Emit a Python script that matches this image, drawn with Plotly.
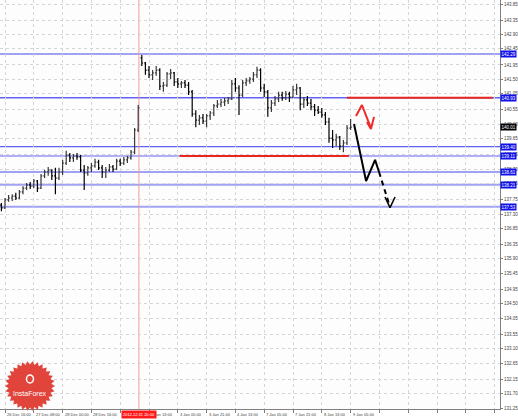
import math
import plotly.graph_objects as go

# ---------------- data ----------------
# two-hour bars, x = hour index on the chart's time scale
bar_hours = list(range(-2, 194, 2))

opens = [137.58,137.49,137.74,137.80,137.86,137.80,137.99,138.11,138.21,138.17,
         138.33,138.11,138.49,138.61,138.67,138.49,138.42,138.61,138.89,139.14,
         139.05,139.11,139.08,138.67,138.58,138.74,138.80,138.92,138.74,138.61,
         138.67,138.77,138.70,138.95,138.89,138.99,139.05,139.23,139.92,142.17,
         142.01,141.79,141.64,141.70,141.79,141.29,141.32,141.67,141.70,141.42,
         141.36,141.39,141.32,141.11,140.42,140.23,140.30,140.20,140.36,140.45,
         140.67,140.73,140.79,140.83,140.89,141.36,141.23,141.01,141.39,141.45,
         141.51,141.64,141.79,141.23,141.11,140.61,140.76,140.89,141.01,140.92,
         141.04,140.95,141.17,141.23,140.73,140.86,140.76,140.64,140.54,140.48,
         140.39,140.17,139.67,139.61,139.70,139.42,139.52,139.98]
highs = [137.64,137.80,137.89,137.92,137.96,138.05,138.17,138.27,138.30,138.39,
         138.36,138.55,138.67,138.77,138.70,138.74,138.74,138.99,139.27,139.20,
         139.17,139.20,139.14,138.83,138.80,138.89,139.02,138.99,138.83,138.77,
         138.86,138.83,139.02,139.02,139.08,139.11,139.30,139.98,140.70,142.26,
         142.04,141.92,141.79,141.92,141.85,141.42,141.73,141.82,141.73,141.54,
         141.45,141.48,141.42,141.17,140.54,140.39,140.42,140.42,140.51,140.73,
         140.86,140.89,140.92,140.95,141.48,141.54,141.32,141.48,141.54,141.57,
         141.73,141.89,141.85,141.36,141.17,140.86,140.98,141.11,141.11,141.14,
         141.11,141.29,141.36,141.26,140.95,140.98,140.89,140.73,140.67,140.61,
         140.48,140.30,139.92,139.80,139.73,139.61,140.08,140.26]
lows = [137.39,137.46,137.68,137.71,137.74,137.77,137.92,138.05,138.08,138.11,
        137.99,138.08,138.42,138.49,138.36,137.92,138.36,138.52,138.83,138.92,
        138.92,138.99,138.61,138.05,138.49,138.61,138.74,138.67,138.42,138.42,
        138.61,138.61,138.67,138.80,138.83,138.89,138.99,139.17,139.86,141.92,
        141.64,141.54,141.48,141.61,141.17,141.11,141.26,141.51,141.29,141.23,
        141.23,141.23,141.01,140.33,140.01,140.08,140.11,140.01,140.23,140.36,
        140.61,140.64,140.67,140.73,140.86,141.11,140.39,140.95,141.29,141.36,
        141.42,141.54,141.11,140.95,140.33,140.48,140.67,140.79,140.83,140.86,
        140.79,140.92,141.01,140.54,140.61,140.67,140.54,140.36,140.42,140.30,
        140.08,139.52,139.36,139.42,139.30,139.23,139.45,139.92]
closes = [137.49,137.74,137.80,137.86,137.80,137.99,138.11,138.21,138.17,138.33,
          138.11,138.49,138.61,138.67,138.49,138.42,138.61,138.89,139.14,139.05,
          139.11,139.08,138.67,138.58,138.74,138.80,138.92,138.74,138.61,138.67,
          138.77,138.70,138.95,138.89,138.99,139.05,139.23,139.92,140.61,142.01,
          141.79,141.64,141.70,141.79,141.29,141.32,141.67,141.70,141.42,141.36,
          141.39,141.32,141.11,140.42,140.23,140.30,140.20,140.36,140.45,140.67,
          140.73,140.79,140.83,140.89,141.36,141.23,141.01,141.39,141.45,141.51,
          141.64,141.79,141.23,141.11,140.61,140.76,140.89,141.01,140.92,141.04,
          140.95,141.17,141.23,140.73,140.86,140.76,140.64,140.54,140.48,140.39,
          140.17,139.67,139.61,139.70,139.42,139.52,139.98,140.01]

# horizontal levels (blue), and red segments
blue_levels = [142.29, 140.93, 139.40, 139.11, 138.61, 138.21, 137.53]
blue_styles = [("#a2a2f2", 2), ("#6262f2", 1.5), ("#6262f2", 1.2), ("#6262f2", 1.2),
               ("#a2a2f2", 2), ("#a2a2f2", 2), ("#a2a2f2", 2)]
red_level_upper = 140.93
red_upper_from, red_upper_to = 190, 271
red_level_lower = 139.11
red_lower_from, red_lower_to = 97, 191
current_price = 140.01

# forecast arrows (chart coordinates: hour index, price)
red_arrow_x = [195.0, 198.3, 203.3]
red_arrow_y = [140.36, 140.70, 139.98]
red_head_x = [201.1, 203.3, 205.0]
red_head_y = [140.17, 139.95, 140.33]
black_solid_x = [193.9, 200.6, 205.6, 207.8]
black_solid_y = [140.11, 138.33, 138.99, 138.61]
black_dash_x = [207.8, 213.9]
black_dash_y = [138.61, 137.52]
black_head_x = [211.1, 213.9, 216.7]
black_head_y = [137.83, 137.50, 137.83]

# crosshair
cross_x = 74.4
cross_label = "2012.12.31 20:00"

# axis ticks
x_tick_vals = [0, 16, 32, 48, 64, 80, 96, 112, 128, 144, 160, 176, 192, 208, 224, 240, 256, 272]
x_tick_labels = ["26 Dec 16:00", "27 Dec 08:00", "28 Dec 00:00", "28 Dec 16:00",
                 "31 Dec 08:00", "2 Jan 13:00", "3 Jan 05:00", "3 Jan 21:00",
                 "4 Jan 13:00", "7 Jan 05:00", "7 Jan 21:00", "8 Jan 13:00",
                 "9 Jan 05:00", "", "", "", "", ""]
y_tick_labels = ["131.25", "131.70", "132.15", "132.65", "133.10", "133.55", "134.05",
                 "134.50", "134.95", "135.45", "135.90", "136.35", "136.85", "137.30",
                 "137.75", "138.25", "138.70", "139.15", "139.65", "140.10", "140.55",
                 "141.05", "141.50", "141.95", "142.45", "142.90", "143.35", "143.85"]

# ---------------- figure ----------------
FONT = "Liberation Sans"
fig = go.Figure()

fig.add_trace(go.Ohlc(
    x=bar_hours, open=opens, high=highs, low=lows, close=closes,
    increasing=dict(line=dict(color="#3a3a3a", width=1.2)),
    decreasing=dict(line=dict(color="#000000", width=1.2)),
    tickwidth=0.35, showlegend=False, hoverinfo="skip"))

fig.add_trace(go.Scatter(x=red_arrow_x, y=red_arrow_y, mode="lines",
                         line=dict(color="#ee2a2a", width=2), showlegend=False, hoverinfo="skip"))
fig.add_trace(go.Scatter(x=red_head_x, y=red_head_y, mode="lines",
                         line=dict(color="#ee2a2a", width=2), showlegend=False, hoverinfo="skip"))
fig.add_trace(go.Scatter(x=black_solid_x, y=black_solid_y, mode="lines",
                         line=dict(color="#000000", width=2), showlegend=False, hoverinfo="skip"))
fig.add_trace(go.Scatter(x=black_dash_x, y=black_dash_y, mode="lines",
                         line=dict(color="#000000", width=2, dash="5px,4px"), showlegend=False, hoverinfo="skip"))
fig.add_trace(go.Scatter(x=black_head_x, y=black_head_y, mode="lines",
                         line=dict(color="#000000", width=1.5), showlegend=False, hoverinfo="skip"))

shapes = []
for lv, (col, w) in zip(blue_levels, blue_styles):
    shapes.append(dict(type="line", xref="paper", x0=0, x1=1, yref="y", y0=lv, y1=lv,
                       line=dict(color=col, width=w), layer="below"))
shapes.append(dict(type="line", xref="x", x0=red_upper_from, x1=red_upper_to, yref="y",
                   y0=red_level_upper, y1=red_level_upper, line=dict(color="#e8261e", width=2)))
shapes.append(dict(type="line", xref="x", x0=red_lower_from, x1=red_lower_to, yref="y",
                   y0=red_level_lower, y1=red_level_lower, line=dict(color="#e8261e", width=2)))
shapes.append(dict(type="line", xref="x", x0=cross_x, x1=cross_x, yref="paper", y0=0, y1=1,
                   line=dict(color="#f29a9a", width=1), layer="below"))

# InstaForex badge (decoration)
pts = []
n = 30
for i in range(2 * n):
    r = 25 if i % 2 == 0 else 21.5
    a = math.pi * i / n
    pts.append((r * math.cos(a), r * math.sin(a)))
star = "M " + " L ".join(f"{px:.2f},{py:.2f}" for px, py in pts) + " Z"
badge_x, badge_y = 30 / 500, (409 - 386) / 409
shapes.append(dict(type="path", xref="paper", yref="paper", xsizemode="pixel", ysizemode="pixel",
                   xanchor=badge_x, yanchor=badge_y, path=star,
                   fillcolor="#e0443a", line=dict(width=0), layer="above"))
shapes.append(dict(type="circle", xref="paper", yref="paper", xsizemode="pixel", ysizemode="pixel",
                   xanchor=badge_x, yanchor=(409 - 379) / 409, x0=-3.5, x1=3.5, y0=-4, y1=4,
                   fillcolor="rgba(0,0,0,0)", line=dict(color="white", width=1.5), layer="above"))

annotations = []
# x tick labels (left-aligned at tick marks)
for xv, lab in zip(x_tick_vals, x_tick_labels):
    if lab:
        annotations.append(dict(x=xv, xref="x", y=0, yref="paper", text=lab, showarrow=False,
                                xanchor="left", yanchor="top", xshift=0, yshift=-1,
                                font=dict(family=FONT, size=4, color="#404040")))
# crosshair time label
annotations.append(dict(x=cross_x, xref="x", y=0, yref="paper", text=cross_label, showarrow=False,
                        xanchor="center", yanchor="top", yshift=-1, bgcolor="#ff1a1a",
                        borderpad=1, font=dict(family=FONT, size=4, color="white")))
# level price labels
for lv in blue_levels:
    annotations.append(dict(x=1, xref="paper", y=lv, yref="y", text=f"{lv:.2f}", showarrow=False,
                            xanchor="left", yanchor="middle", xshift=0, bgcolor="#1010e8",
                            borderpad=0.5, font=dict(family=FONT, size=4.5, color="white")))
annotations.append(dict(x=1, xref="paper", y=current_price, yref="y", text=f"{current_price:.2f}",
                        showarrow=False, xanchor="left", yanchor="middle", bgcolor="#000000",
                        borderpad=0.5, font=dict(family=FONT, size=4.5, color="white")))
annotations.append(dict(x=badge_x, xref="paper", y=(409 - 393) / 409, yref="paper", text="InstaForex",
                        showarrow=False, xanchor="center", yanchor="middle",
                        font=dict(family=FONT, size=7, color="white")))

fig.update_layout(
    width=518, height=420,
    margin=dict(l=0, r=18, t=0, b=11),
    paper_bgcolor="white", plot_bgcolor="#fdfdfd",
    showlegend=False,
    shapes=shapes, annotations=annotations,
    xaxis=dict(range=[-2.78, 275], tickvals=x_tick_vals, showticklabels=False,
               ticks="outside", ticklen=3, tickcolor="#808080",
               showgrid=True, gridcolor="#d6d6d6", griddash="dot", gridwidth=1,
               showline=True, linecolor="#808080", linewidth=1, zeroline=False,
               rangeslider=dict(visible=False), fixedrange=True),
    yaxis=dict(range=[131.219, 143.975], side="right",
               tickvals=[float(t) for t in y_tick_labels], ticktext=y_tick_labels,
               ticks="outside", ticklen=2, tickcolor="#808080",
               tickfont=dict(family=FONT, size=4.5, color="#404040"),
               showgrid=True, gridcolor="#d6d6d6", griddash="dot", gridwidth=1,
               showline=True, linecolor="#808080", linewidth=1, zeroline=False,
               fixedrange=True),
)

fig.write_html("out.html", config={"displayModeBar": False},
               post_script="document.body.style.margin='0';document.body.style.overflow='hidden';")
